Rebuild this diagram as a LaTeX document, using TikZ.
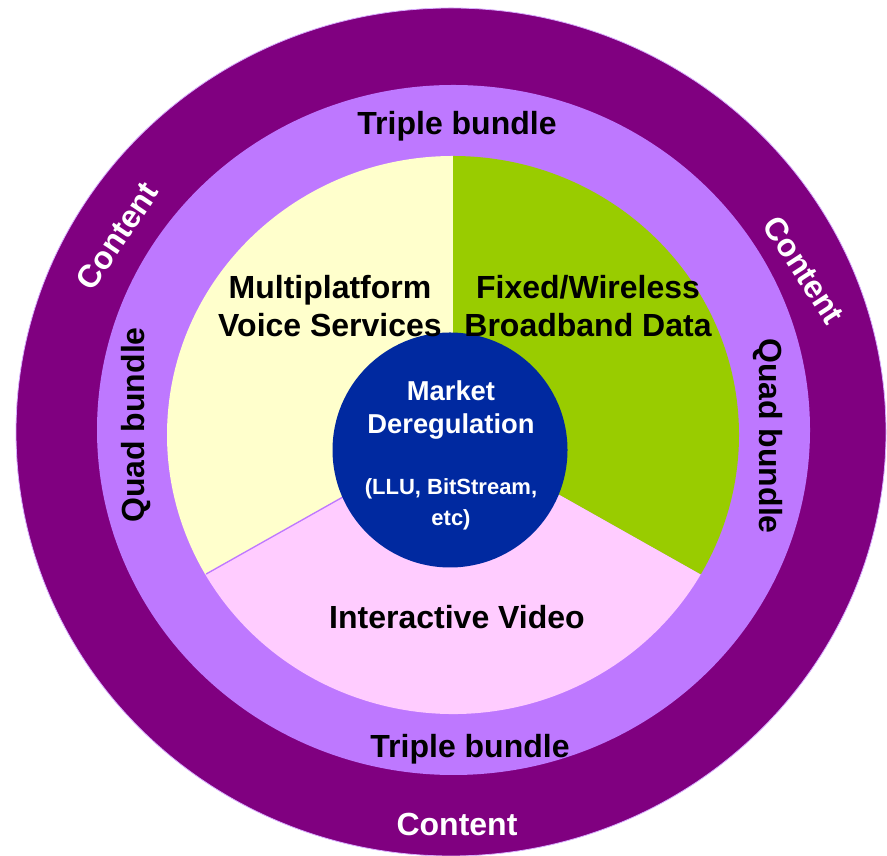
\documentclass[tikz,border=0pt]{standalone}
\usepackage{fontspec}
\setmainfont{Liberation Sans}
\definecolor{outerpurple}{RGB}{128,0,128}
\definecolor{lavender}{RGB}{190,120,255}
\definecolor{cream}{RGB}{255,255,204}
\definecolor{leaf}{RGB}{153,204,0}
\definecolor{pinkish}{RGB}{255,204,255}
\definecolor{deepblue}{RGB}{0,41,160}
\tikzset{
  lbl/.style={font=\fontsize{24}{28.5}\selectfont\bfseries, text=black, align=center, inner sep=0pt},
  wlbl/.style={lbl, text=white},
  ctrbig/.style={font=\fontsize{20.5}{24.75}\selectfont\bfseries, text=white, align=center, inner sep=0pt},
  ctrsmall/.style={font=\fontsize{16.5}{23.25}\selectfont\bfseries, text=white, align=center, inner sep=0pt}
}
\begin{document}
\begin{tikzpicture}[x=0.75pt,y=0.75pt]
\useasboundingbox (0,0) rectangle (887,855);
% outer ring
\fill[outerpurple, draw=lavender!60, line width=0.6pt] (451,423) ellipse [x radius=435, y radius=424];
% light ring
\fill[lavender] (453.5,425) ellipse [x radius=356.5, y radius=345];
% pie
\coordinate (pc) at (453,420);
\fill[cream] (pc) -- ++(0,279) arc[start angle=90, end angle=210, x radius=286, y radius=279] -- cycle;
\fill[leaf] (pc) -- ++(0,279) arc[start angle=90, end angle=-30, x radius=286, y radius=279] -- cycle;
\fill[pinkish] (pc) -- ++({286*cos(210)},{279*sin(210)}) arc[start angle=210, end angle=330, x radius=286, y radius=279] -- cycle;
\draw[lavender, line width=1pt] (pc) -- ++({285*cos(210)},{278*sin(210)});
% centre circle
\fill[deepblue] (450,405) circle[radius=117.5];
% labels
\node[lbl] (tt) at (457,729) {Triple bundle};
\node[lbl] (tb) at (470,106) {Triple bundle};
\node[wlbl] (cb) at (457,31) {Content};
\node[wlbl, rotate=56] (cl) at (117,619) {Content};
\node[wlbl, rotate=-57] (cr) at (804,585) {Content};
\node[lbl, rotate=90] (ql) at (136,430) {Quad bundle};
\node[lbl, rotate=-90] (qr) at (768,419) {Quad bundle};
\node[lbl] (mv) at (330,549) {Multiplatform\\Voice Services};
\node[lbl] (fw) at (588,549) {Fixed/Wireless\\Broadband Data};
\node[lbl] (iv) at (457,238) {Interactive Video};
\node[ctrbig] (md) at (451,444.5) {Market\\Deregulation};
\node[ctrsmall] (ll) at (451,350.5) {(LLU, BitStream,\\etc)};
\end{tikzpicture}
\end{document}
